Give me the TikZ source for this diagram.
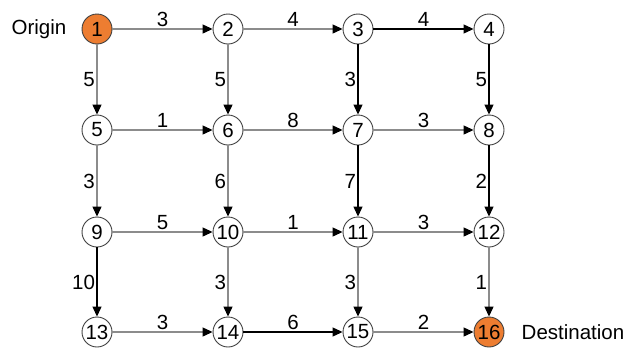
\documentclass[tikz,border=0pt]{standalone}
\usepackage{fontspec}
\setmainfont{Liberation Sans}
\usetikzlibrary{arrows.meta}
\definecolor{org}{HTML}{ED7D31}
\definecolor{lgray}{HTML}{8C8C8C}
\begin{document}
\begin{tikzpicture}[x=1pt,y=-1pt,
  vtx/.style={circle,draw=black!75,line width=0.9pt,minimum size=30pt,inner sep=0pt,fill=white,font=\fontsize{20.5}{22}\selectfont},
  src/.style={vtx,fill=org},
  ga/.style={draw=lgray,line width=1.2pt,-{Triangle[length=10pt,width=9pt,color=black]}},
  ba/.style={draw=black,line width=1.1pt,-{Triangle[length=10pt,width=9pt]}},
  lab/.style={font=\fontsize{20.5}{22}\selectfont,inner sep=1.5pt}]
\useasboundingbox (0,0) rectangle (630,354);
\node[src] (n1) at (97,29) {1};
\node[vtx] (n2) at (228,29) {2};
\node[vtx] (n3) at (358,29) {3};
\node[vtx] (n4) at (489,29) {4};
\node[vtx] (n5) at (97,130) {5};
\node[vtx] (n6) at (228,130) {6};
\node[vtx] (n7) at (358,130) {7};
\node[vtx] (n8) at (489,130) {8};
\node[vtx] (n9) at (97,232) {9};
\node[vtx] (n10) at (228,232) {10};
\node[vtx] (n11) at (358,232) {11};
\node[vtx] (n12) at (489,232) {12};
\node[vtx] (n13) at (97,332) {13};
\node[vtx] (n14) at (228,332) {14};
\node[vtx] (n15) at (358,332) {15};
\node[src] (n16) at (489,332) {16};
\node[lab,anchor=east] (o) at (68,29) {Origin};
\node[lab,anchor=west] (d) at (520,332) {Destination};
% horizontal
\draw[ga] (n1) -- node[lab,above] {3} (n2);
\draw[ga] (n2) -- node[lab,above] {4} (n3);
\draw[ba] (n3) -- node[lab,above] {4} (n4);
\draw[ga] (n5) -- node[lab,above] {1} (n6);
\draw[ga] (n6) -- node[lab,above] {8} (n7);
\draw[ga] (n7) -- node[lab,above] {3} (n8);
\draw[ga] (n9) -- node[lab,above] {5} (n10);
\draw[ga] (n10) -- node[lab,above] {1} (n11);
\draw[ga] (n11) -- node[lab,above] {3} (n12);
\draw[ga] (n13) -- node[lab,above] {3} (n14);
\draw[ba] (n14) -- node[lab,above] {6} (n15);
\draw[ga] (n15) -- node[lab,above] {2} (n16);
% vertical
\draw[ga] (n1) -- node[lab,left] {5} (n5);
\draw[ga] (n2) -- node[lab,left] {5} (n6);
\draw[ba] (n3) -- node[lab,left] {3} (n7);
\draw[ba] (n4) -- node[lab,left] {5} (n8);
\draw[ga] (n5) -- node[lab,left] {3} (n9);
\draw[ga] (n6) -- node[lab,left] {6} (n10);
\draw[ba] (n7) -- node[lab,left] {7} (n11);
\draw[ba] (n8) -- node[lab,left] {2} (n12);
\draw[ba] (n9) -- node[lab,left] {10} (n13);
\draw[ga] (n10) -- node[lab,left] {3} (n14);
\draw[ga] (n11) -- node[lab,left] {3} (n15);
\draw[ga] (n12) -- node[lab,left] {1} (n16);
\end{tikzpicture}
\end{document}
